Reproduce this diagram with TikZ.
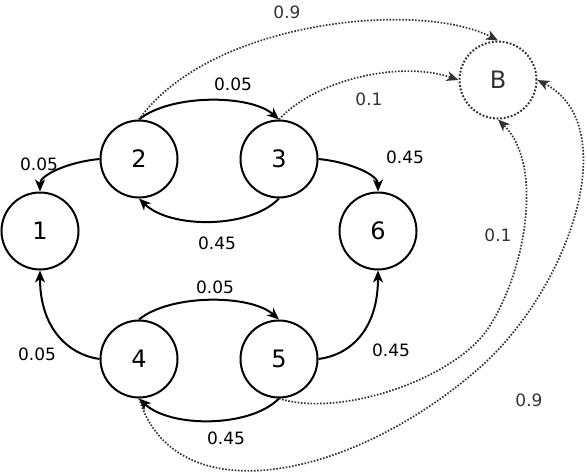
\documentclass[tikz,border=0pt]{standalone}
\usepackage{fontspec}
\setmainfont{DejaVu Sans}
\usepackage{tikz}
\usetikzlibrary{arrows.meta,positioning,calc}

\begin{document}
\begin{tikzpicture}[
  x=1pt, y=-1pt,
  font=\fontsize{17}{20}\selectfont,
  st/.style={draw, circle, line width=2pt, minimum size=77pt, inner sep=0pt,
             font=\fontsize{24}{28}\selectfont},
  bst/.style={st, draw=black!80, dash pattern=on 1.8pt off 1.8pt, text=black!80},
  flow/.style={-{Stealth[length=12pt,width=10pt,inset=3.5pt]}, line width=2pt},
  leak/.style={-{Stealth[length=12pt,width=10pt,inset=3.5pt]}, line width=1.7pt,
               dash pattern=on 1.6pt off 1.6pt, draw=black!80},
  lbl/.style={inner sep=1pt},
  glbl/.style={lbl, text=black!80}
]
\useasboundingbox (0,0) rectangle (587,474);
\node[st] (n1) at (40,231) {1};
\node[st] (n2) at (139,159) {2};
\node[st] (n3) at (279,159) {3};
\node[st] (n6) at (378,231) {6};
\node[st] (n4) at (139,359) {4};
\node[st] (n5) at (279,359) {5};
\node[bst] (nb) at (498,80) {B};
\coordinate (m5) at (487,330);
\coordinate (m4) at (477,370);
% inner transitions
\draw[flow] (n2.west) .. controls (68,162) and (40,175) .. (n1.north);
\draw[flow] (n2.north) .. controls (170,94) and (250,94) .. (n3.north);
\draw[flow] (n3.south) .. controls (250,229) and (170,229) .. (n2.south);
\draw[flow] (n3.east) .. controls (350,162) and (378,175) .. (n6.north);
\draw[flow] (n4.west) .. controls (70,355) and (40,330) .. (n1.south);
\draw[flow] (n4.north) .. controls (170,294) and (250,294) .. (n5.north);
\draw[flow] (n5.south) .. controls (250,428) and (170,428) .. (n4.south);
\draw[flow] (n5.east) .. controls (350,355) and (378,330) .. (n6.south);
% leaks to B
\draw[leak] (n2.north) .. controls (210,20) and (420,0) .. (nb.north);
\draw[leak] (n3.north) .. controls (315,80) and (400,60) .. (nb.west);
\draw[leak] (n5.south) .. controls (340,418) and (453,379) .. (m5)
  .. controls (525,275) and (545,165) .. (nb.south);
\draw[leak] (n4.south) .. controls (175,515) and (350,480) .. (m4)
  .. controls (570,290) and (625,125) .. (nb.east);
% labels
\node[lbl] (p21) at (39,164) {0.05};
\node[lbl] (p23) at (233,84) {0.05};
\node[lbl] (p32) at (217,243) {0.45};
\node[lbl] (p36) at (405,157) {0.45};
\node[lbl] (p41) at (37,354) {0.05};
\node[lbl] (p45) at (215,287) {0.05};
\node[lbl] (p54) at (226,438) {0.45};
\node[lbl] (p56) at (391,350) {0.45};
\node[glbl] (p2b) at (287,12) {0.9};
\node[glbl] (p3b) at (369,99) {0.1};
\node[glbl] (p5b) at (498,235) {0.1};
\node[glbl] (p4b) at (529,400) {0.9};
\end{tikzpicture}
\end{document}
